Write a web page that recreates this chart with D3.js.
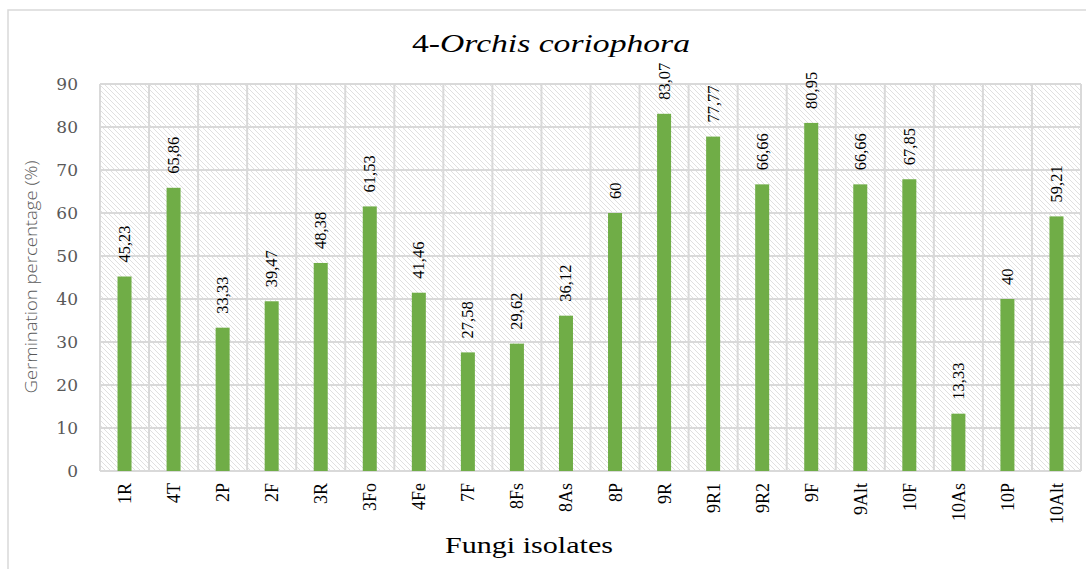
<!DOCTYPE html>
<html><head><meta charset="utf-8">
<script src="https://cdn.jsdelivr.net/npm/d3@7"></script>
<style>body{margin:0;background:#fff}</style>
</head><body>
<svg id="c" width="1086" height="569"></svg>
<script>
const categories = ["1R","4T","2P","2F","3R","3Fo","4Fe","7F","8Fs","8As","8P","9R","9R1","9R2","9F","9Alt","10F","10As","10P","10Alt"];
const values = [45.23,65.86,33.33,39.47,48.38,61.53,41.46,27.58,29.62,36.12,60,83.07,77.77,66.66,80.95,66.66,67.85,13.33,40,59.21];
const yTicks = [0,10,20,30,40,50,60,70,80,90];

const svg = d3.select("#c");
const m = {left:100, right:1081, top:84, bottom:471};
const serif = "Liberation Serif";

const defs = svg.append("defs");
const pat = defs.append("pattern").attr("id","hatch").attr("patternUnits","userSpaceOnUse")
  .attr("width",5).attr("height",5);
pat.append("rect").attr("width",5).attr("height",5).attr("fill","#fff");
pat.append("path").attr("d","M-1,-1 L6,6 M-1,4 L1,6 M4,-1 L6,1").attr("stroke","#dcdcdc").attr("stroke-width",0.9);

// outer border
svg.append("rect").attr("x",8).attr("y",10).attr("width",1100).attr("height",600)
  .attr("fill","#fff").attr("stroke","#d9d9d9").attr("stroke-width",1.5);

const x = d3.scaleBand().domain(categories).range([m.left,m.right]).paddingInner(0).paddingOuter(0);
const y = d3.scaleLinear().domain([0,90]).range([m.bottom,m.top]);

svg.append("rect").attr("x",m.left).attr("y",m.top).attr("width",m.right-m.left).attr("height",m.bottom-m.top)
  .attr("fill","url(#hatch)");

// horizontal grid
svg.append("g").selectAll("line").data(yTicks).join("line")
  .attr("x1",m.left).attr("x2",m.right).attr("y1",d=>y(d)).attr("y2",d=>y(d))
  .attr("stroke","#d9d9d9").attr("stroke-width",2);
// vertical grid
const vx = categories.map(c=>x(c)).concat([m.right]);
svg.append("g").selectAll("line").data(vx).join("line")
  .attr("x1",d=>d).attr("x2",d=>d).attr("y1",m.top).attr("y2",m.bottom)
  .attr("stroke","#d9d9d9").attr("stroke-width",2);

// y axis labels
const yAxis = d3.axisLeft(y).tickValues(yTicks).tickSize(0).tickPadding(0);
const ga = svg.append("g").attr("transform",`translate(${m.left-22},0)`).call(yAxis);
ga.select(".domain").remove();
ga.selectAll("text").attr("font-family","DejaVu Serif").attr("font-size",17).attr("fill","#595959");

// bars
const bw = 14;
svg.append("g").selectAll("rect").data(values).join("rect")
  .attr("x",(d,i)=>x(categories[i])+x.bandwidth()/2-bw/2)
  .attr("width",bw)
  .attr("y",d=>y(d)).attr("height",d=>y(0)-y(d))
  .attr("fill","#70ad47");

// data labels
svg.append("g").selectAll("text").data(values).join("text")
  .attr("transform",(d,i)=>`translate(${x(categories[i])+x.bandwidth()/2+5.5},${y(d)-14}) rotate(-90)`)
  .attr("font-family",serif).attr("font-size",16.5).attr("fill","#000")
  .text(d=>String(d).replace(".",","));

// x axis labels
const xAxis = d3.axisBottom(x).tickSize(0).tickPadding(0);
const gx = svg.append("g").attr("transform",`translate(0,${m.bottom})`).call(xAxis);
gx.select(".domain").remove();
gx.selectAll("text")
  .attr("transform","translate(6.5,12) rotate(-90)")
  .attr("text-anchor","end").attr("dy",0).attr("y",0).attr("x",0)
  .attr("font-family",serif).attr("font-size",18).attr("fill","#000");

// title
const t = svg.append("text").attr("x",551).attr("y",52).attr("text-anchor","middle")
  .attr("font-family",serif).attr("font-size",26).attr("fill","#000")
  .attr("textLength",278).attr("lengthAdjust","spacingAndGlyphs");
t.append("tspan").text("4-");
t.append("tspan").attr("font-style","italic").text("Orchis coriophora");

// axis titles
svg.append("text").attr("x",529).attr("y",553).attr("text-anchor","middle")
  .attr("font-family",serif).attr("font-size",24).attr("fill","#000")
  .attr("textLength",168).attr("lengthAdjust","spacingAndGlyphs")
  .text("Fungi isolates");
svg.append("text").attr("transform","translate(37,277) rotate(-90)").attr("text-anchor","middle")
  .attr("font-family","Open Sans").attr("font-size",17).attr("font-weight",300).attr("fill","#595959")
  .attr("textLength",233).attr("lengthAdjust","spacingAndGlyphs")
  .text("Germination percentage (%)");
</script>
</body></html>
